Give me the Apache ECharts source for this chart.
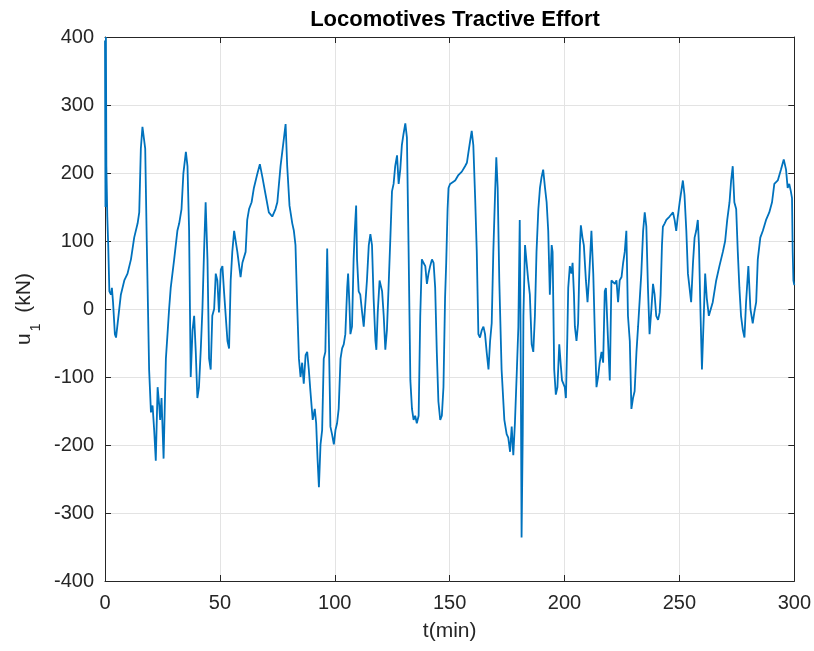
<!DOCTYPE html>
<html>
<head>
<meta charset="utf-8">
<script src="https://cdn.jsdelivr.net/npm/echarts@6/dist/echarts.min.js"></script>
<style>html,body{margin:0;padding:0;background:#fff;}#c{width:814px;height:651px;}</style>
</head>
<body>
<div id="c"></div>
<script>
var titleText = 'Locomotives Tractive Effort';
var xName = 't(min)';
var xTicks = [0, 50, 100, 150, 200, 250, 300];
var yTicks = [-400, -300, -200, -100, 0, 100, 200, 300, 400];

var times = [
0, 0.2, 0.4, 0.6, 1.0, 1.4, 1.9, 2.6, 3.0, 3.5, 4.3, 4.8,
5.5, 6.9, 8.4, 9.8, 11.3, 12.7, 14.2, 14.9, 15.6, 16.3, 17.1, 17.5, 18.2, 19.2, 20.0, 20.7, 21.4, 22.1, 22.9, 23.6, 24.0, 24.6, 25.5, 26.5, 27.2, 27.9, 28.6, 30.1, 31.5, 32.3, 33.3, 34.1, 35.2, 35.9, 36.6, 37.3, 38.1, 38.8, 39.5, 40.2, 40.9, 41.7, 42.4, 43.1, 43.8, 44.6, 45.3, 46.0, 46.7, 47.5,
48.2, 48.9, 49.6, 50.4, 51.1, 51.8, 53.3, 54.0, 54.7, 55.4, 56.2, 57.6, 59.0, 59.8, 61.2, 61.9, 62.7, 63.8, 64.8, 66.3, 67.4, 68.5, 69.9, 71.3, 72.8, 74.2, 75.0, 76.4, 77.9, 78.6, 79.3, 80.3, 81.5, 82.2, 82.9, 83.6, 84.4, 85.1, 85.8, 86.5, 87.3, 88.0, 88.7, 89.4, 90.4, 91.3, 91.9, 92.5, 93.1, 93.8, 94.5, 95.2, 95.9, 96.7, 97.4,
98.1, 98.8, 99.6, 100.3, 101.0, 101.7, 102.5, 103.2, 103.9, 104.6, 105.4, 105.8, 106.4, 106.8, 107.5, 108.2, 108.7, 109.3, 109.7, 110.4, 111.1, 111.9, 112.6, 113.3, 114.0, 114.8, 115.5, 116.2, 116.9, 117.7, 118.1, 118.7, 119.5, 120.6, 121.3, 122.0, 122.7, 123.4, 124.2, 124.9, 125.6, 126.3, 127.1, 127.8, 128.5, 129.2, 129.9, 130.7, 131.4, 132.1, 132.9, 133.6, 134.3, 135.0, 135.7, 136.5, 137.2, 137.9, 138.6, 139.4, 140.1, 140.8, 141.5, 142.3, 143.0, 143.7, 144.4, 145.1, 145.9, 146.6, 147.3, 148.0,
148.5, 149.1, 149.5, 150.2, 151.0, 152.4, 153.8, 155.3, 156.7, 157.5, 158.2, 158.9, 159.6, 160.3, 161.1, 161.8, 162.5, 163.2, 164.0, 164.7, 165.4, 166.1, 166.9, 167.6, 168.3, 169.0, 169.8, 170.3, 170.9, 171.6, 172.6, 173.8, 174.8, 175.5, 176.3, 177.0, 177.7, 178.4, 179.2, 179.9, 180.5, 180.8, 181.0, 181.3, 181.8, 182.1, 182.8, 183.5, 184.2, 184.9, 185.7, 186.4, 187.1, 187.8, 188.6, 189.3, 190.0, 190.7, 191.5, 192.2, 192.9, 193.6, 194.4, 194.8, 195.5, 196.2, 196.9, 197.7, 198.4, 198.9,
200.1, 200.6, 201.2, 201.6, 202.3, 203.0, 203.5, 204.1, 204.5, 205.2, 205.9, 206.7, 207.1, 207.8, 208.4, 209.3, 210.0, 210.7, 211.7, 212.5, 213.2, 213.9, 214.6, 215.3, 216.1, 216.8, 217.5, 218.0, 219.0, 219.7, 220.4, 221.1, 221.9, 222.6, 223.3, 224.0, 224.8, 225.5, 226.2, 226.9, 227.6, 228.4, 229.1, 229.8, 230.5, 231.3, 232.0, 232.7, 233.4, 234.2, 234.9, 235.6, 236.3, 237.0, 237.8, 238.5, 239.2, 239.9, 240.7, 241.4, 241.8, 242.4, 242.8, 243.6, 244.3, 245.0, 245.7, 247.2, 247.9,
248.6, 249.3, 250.1, 250.8, 251.5, 252.2, 253.0, 253.7, 254.4, 255.1, 255.9, 256.6, 257.3, 258.0, 258.5, 259.2, 259.8, 260.6, 261.2, 261.9, 262.8, 263.5, 264.5, 266.0, 267.4, 268.9, 269.9, 270.8, 271.8, 272.5, 273.2, 273.9, 274.7, 275.4, 276.1, 276.8, 277.6, 278.3, 279.0, 280.0, 280.9, 281.9, 282.6, 283.4, 284.1, 285.2, 286.3, 287.7, 289.1, 290.3, 291.3, 292.8, 294.2, 295.4, 296.4, 297.1, 297.8, 298.5, 299.0, 299.3, 299.6, 300
];

var effort = [
395, 150, 400, 210, 136, 94, 26, 21, 31, 10, -37, -42,
-21, 21, 42, 52, 73, 105, 126, 142, 236, 268, 268, 236, 94, -89, -152, -142, -178, -223, -115, -142, -163, -131, -220, -73, -37, 0, 31, 73, 115, 126, 147, 199, 231, 210, 115, -100, -31, -10, -63, -131, -115, -58, 0, 84, 157, 73, -73, -89, -10, 0,
52, 42, -5, 58, 63, 26, -47, -58, 42, 84, 115, 84, 47, 68, 84, 131, 147, 157, 178, 199, 213, 194, 168, 142, 136, 147, 157, 210, 252, 272, 210, 152, 126, 115, 94, 10, -73, -100, -79, -110, -68, -63, -89, -121, -163, -147, -168, -220, -262, -199, -178, -73, -63, 89, -37,
-173, -184, -199, -178, -168, -147, -73, -58, -52, -37, 31, 52, 5, -37, -26, 73, 115, 152, 73, 26, 21, -5, -26, -26, 42, 94, 110, 94, 16, -47, -60, -5, 42, 26, -10, -60, -31, 31, 105, 173, 184, 210, 226, 184, 205, 241, 257, 273, 252, 94, -105, -147, -163, -157, -168, -157, -10, 73, 68, 63, 37, 52, 63, 73, 68, 31, -63, -136, -163, -157, -115, 16,
68, 147, 178, 184, 184, 189, 197, 202, 210, 215, 231, 247, 262, 241, 163, 84, -37, -42, -31, -26, -37, -63, -89, -47, -21, 84, 173, 223, 178, 42, -89, -163, -184, -189, -210, -173, -215, -168, -94, -26, 131, 0, -115, -336, -184, -10, 94, 68, 42, 21, -52, -63, -10, 84, 147, 178, 194, 205, 178, 157, 115, 21, 94, 84, -89, -126, -115, -52, -84, -105,
-115, -131, -42, 31, 63, 52, 68, 21, -26, -47, -21, 94, 123, 105, 94, 42, 10, 47, 115, 52, -37, -115, -100, -79, -63, -79, 26, 31, -52, -105, 42, 42, 37, 42, 10, 42, 47, 68, 84, 115, -10, -47, -147, -131, -121, -63, -26, -26, 52, 115, 142, 121, 31, -37, 0, 37, 21, -10, -16, -5, 21, 94, 121, 126, 131, 131, 136, 142, 131,
115, 136, 157, 173, 189, 168, 115, 52, 31, 10, 68, 105, 115, 131, 94, -10, -89, -10, 52, 16, -10, -10, 10, 42, 63, 84, 100, 131, 157, 189, 210, 157, 147, 84, 31, -10, -31, -42, 10, 63, 0, -21, -5, 10, 73, 105, 115, 131, 142, 157, 184, 189, 205, 220, 205, 178, 184, 173, 163, 84, 42, 35
];

var seriesData = times.map(function (t, i) { return [t, effort[i]]; });

var txt = '#262626';
var font = 'Liberation Sans, Arial, Helvetica, sans-serif';
var chart = echarts.init(document.getElementById('c'), null, { renderer: 'canvas' });

function xAxisCfg(pos, labels) {
  return {
    type: 'value', position: pos, min: xTicks[0], max: xTicks[xTicks.length - 1], interval: 50,
    name: labels ? xName : '', nameLocation: 'middle', nameGap: 40,
    nameTextStyle: { color: txt, fontSize: 21, fontFamily: font },
    axisLine: { show: true, onZero: false, lineStyle: { color: txt, width: 1 } },
    axisTick: { show: true, inside: true, length: 6, lineStyle: { color: txt } },
    axisLabel: { show: labels, color: txt, fontSize: 20, fontFamily: font, margin: 12 },
    splitLine: { show: labels, lineStyle: { color: '#e3e3e3', width: 1 } }
  };
}
function yAxisCfg(pos, labels) {
  return {
    type: 'value', position: pos, min: yTicks[0], max: yTicks[yTicks.length - 1], interval: 100,
    name: labels ? '{a|u}{s|1}{a| (kN)}' : '', nameLocation: 'middle', nameGap: 55, nameRotate: 90,
    nameTextStyle: {
      color: txt, fontFamily: font,
      rich: {
        a: { fontSize: 21, color: txt, fontFamily: font, lineHeight: 26, verticalAlign: 'top' },
        s: { fontSize: 14, color: txt, fontFamily: font, lineHeight: 14, verticalAlign: 'top', padding: [15, 5, 0, 2] }
      }
    },
    axisLine: { show: true, onZero: false, lineStyle: { color: txt, width: 1 } },
    axisTick: { show: true, inside: true, length: 6, lineStyle: { color: txt } },
    axisLabel: { show: labels, color: txt, fontSize: 20, fontFamily: font, margin: 11 },
    splitLine: { show: labels, lineStyle: { color: '#e3e3e3', width: 1 } }
  };
}

chart.setOption({
  animation: false,
  backgroundColor: '#ffffff',
  title: {
    text: titleText, left: 450, top: 4, textAlign: 'center',
    textStyle: { color: '#000', fontSize: 22, fontWeight: 'bold', fontFamily: font }
  },
  grid: { left: 105, right: 19, top: 37, bottom: 70, containLabel: false },
  xAxis: [xAxisCfg('bottom', true), xAxisCfg('top', false)],
  yAxis: [yAxisCfg('left', true), yAxisCfg('right', false)],
  series: [{
    type: 'line', xAxisIndex: 0, yAxisIndex: 0, data: seriesData,
    showSymbol: false, symbol: 'none', smooth: false,
    lineStyle: { color: '#0072BD', width: 1.8 },
    clip: true
  }]
});
</script>
</body>
</html>
